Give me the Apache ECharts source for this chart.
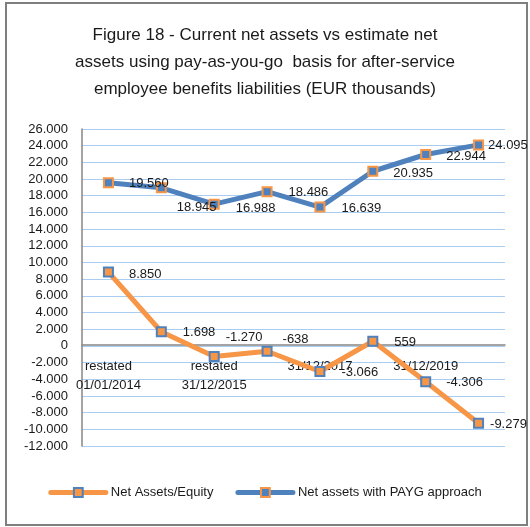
<!DOCTYPE html>
<html>
<head>
<meta charset="utf-8">
<script src="https://cdn.jsdelivr.net/npm/echarts@6/dist/echarts.min.js"></script>
<style>
  html, body { margin: 0; padding: 0; background: #fff; }
  #chart { width: 530px; height: 527px; }
</style>
</head>
<body>
<div id="chart"></div>
<script>
// dates on the x axis (only every other one is labelled in the original)
const categories = [
  'restated\n01/01/2014', 'restated\n31/12/2014', 'restated\n31/12/2015', '31/12/2016',
  '31/12/2017', '31/12/2018', '31/12/2019', '31/12/2020'
]
const netAssets = [8850, 1698, -1270, -638, -3066, 559, -4306, -9279]
const netAssetsPayg = [19560, 18945, 16988, 18486, 16639, 20935, 22944, 24095]
const yTicks = { min: -12000, max: 26000, step: 2000 }

// label nudges, copied from where excel left them
const orangeLabelShift = [[0, 2], [1, 1], [-9, -19], [-5, -12], [1, 1], [1, 1], [0, 1], [-9, 1]]
const blueLabelShift = [[0, 1], [-5, 20], [1, 4], [1, 1], [1, 1], [0, 2], [0, 2], [-11, 1]]

const ORANGE = '#F79646'
const BLUE = '#4F81BD'
const FONT = "'Liberation Sans', Arial, sans-serif"

function fmt(v) {
  const s = String(Math.abs(v)).replace(/\B(?=(\d{3})+(?!\d))/g, '.')
  return v < 0 ? '-' + s : s
}

function points(values, shifts) {
  return values.map((v, i) => ({ value: v, label: { offset: shifts[i] } }))
}

function lineSeries(name, values, shifts, color, border) {
  return {
    name,
    type: 'line',
    data: points(values, shifts),
    symbol: 'rect',
    symbolSize: 9,
    showAllSymbol: true,
    lineStyle: { color, width: 5 },
    itemStyle: { color, borderColor: border, borderWidth: 2 },
    label: {
      show: true,
      position: 'right',
      distance: 15,
      color: '#1a1a1a',
      fontSize: 13,
      fontFamily: FONT,
      formatter: (p) => fmt(p.value)
    },
    emphasis: { disabled: true }
  }
}

// plot height 317px over 38.000 -> the zero line sits 101px above the bottom
const zeroOffset = -101

const chart = echarts.init(document.getElementById('chart'), null, { renderer: 'canvas' })
chart.setOption({
  animation: false,
  textStyle: { fontFamily: FONT },
  graphic: [{
    type: 'rect',
    shape: { x: 6, y: 3, width: 521, height: 522 },
    style: { fill: 'none', stroke: '#7f7f7f', lineWidth: 2 },
    silent: true
  }],
  title: {
    text: 'Figure 18 - Current net assets vs estimate net\nassets using pay-as-you-go  basis for after-service\nemployee benefits liabilities (EUR thousands)',
    left: 'center',
    top: 17,
    textStyle: { fontSize: 17, fontWeight: 'normal', color: '#1a1a1a', lineHeight: 27, fontFamily: FONT, align: 'center' }
  },
  legend: {
    bottom: 23,
    left: 'center',
    itemWidth: 55,
    itemHeight: 11,
    itemGap: 22,
    lineStyle: { width: 5, cap: 'round' },
    textStyle: { fontSize: 13, color: '#1a1a1a', fontFamily: FONT },
    data: ['Net Assets/Equity', 'Net assets with PAYG approach']
  },
  grid: { left: 82, right: 25, top: 129, bottom: 81, containLabel: false },
  xAxis: {
    type: 'category',
    data: categories,
    boundaryGap: true,
    offset: zeroOffset,
    axisLine: { onZero: false, lineStyle: { color: '#868686', width: 1.5 } },
    axisTick: { show: false },
    axisLabel: { interval: 1, color: '#1a1a1a', fontSize: 13, lineHeight: 19, margin: 12 },
    splitLine: { show: false }
  },
  yAxis: {
    type: 'value',
    min: yTicks.min,
    max: yTicks.max,
    interval: yTicks.step,
    axisLine: { show: true, lineStyle: { color: '#868686', width: 1.5 } },
    axisTick: { show: false },
    axisLabel: { color: '#1a1a1a', fontSize: 13, margin: 14, formatter: fmt },
    splitLine: { lineStyle: { color: '#a9cdf0', width: 1 } }
  },
  series: [
    lineSeries('Net Assets/Equity', netAssets, orangeLabelShift, ORANGE, BLUE),
    lineSeries('Net assets with PAYG approach', netAssetsPayg, blueLabelShift, BLUE, ORANGE)
  ]
})
</script>
</body>
</html>
